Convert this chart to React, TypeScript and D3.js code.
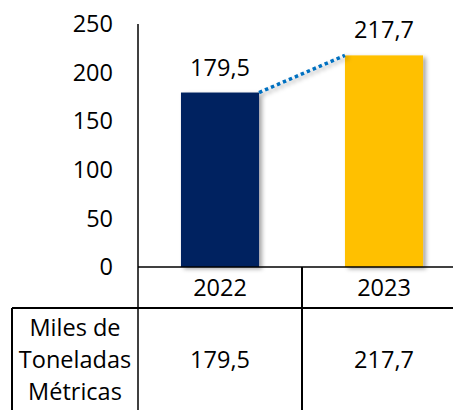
import React from 'react';
import * as d3 from 'd3';

const categories = ['2022', '2023'];
const values = [179.5, 217.7];
const yTicks = [0, 50, 100, 150, 200, 250];
const barColors = ['#002060', '#FFC000'];
const rowLabel = ['Miles de', 'Toneladas', 'Métricas'];

const locale = d3.formatLocale({ decimal: ',', thousands: '.', grouping: [3], currency: ['', ''] });
const fmt = locale.format('.1f');

const App = () => {
  const width = 453;
  const height = 410;
  const left = 138;
  const right = 466;
  const top = 24;
  const zeroY = 267;
  const headerBottom = 308;
  const font = "'Open Sans', sans-serif";
  const fs = 23.5;

  const x = d3.scaleBand().domain(categories).range([left, right]).padding(0);
  const xBar = d3.scaleBand().domain(categories).range([left, right])
    .paddingInner(0.524).paddingOuter(0.262);
  const y = d3.scaleLinear().domain([0, 250]).range([zeroY, top]);

  // dotted connector from top-right of first bar to top-left of second
  const connector = d3.line()([
    [xBar(categories[0]) + xBar.bandwidth(), y(values[0])],
    [xBar(categories[1]), y(values[1])],
  ]);

  return (
    <svg width={width} height={height} style={{ position: 'absolute', left: 0, top: 0 }}
      fontFamily={font} fontSize={fs}>
      <defs>
        <filter id="shadow" x="-20%" y="-20%" width="150%" height="150%">
          <feDropShadow dx="3" dy="2" stdDeviation="2" floodColor="#000" floodOpacity="0.35" />
        </filter>
      </defs>
      <rect width={width} height={height} fill="#fff" />

      {yTicks.map(t => (
        <text key={t} x={113} y={y(t)} dy="0.35em" textAnchor="end" fill="#000">{t}</text>
      ))}

      {categories.map((c, i) => (
        <rect key={c} x={xBar(c)} y={y(values[i])} width={xBar.bandwidth()}
          height={zeroY - y(values[i])} fill={barColors[i]} filter="url(#shadow)" />
      ))}

      <path d={connector} stroke="#0070C0" strokeWidth={3.5} strokeDasharray="3.5 3"
        fill="none" filter="url(#shadow)" />

      {categories.map((c, i) => (
        <text key={c} x={x(c) + x.bandwidth() / 2} y={y(values[i]) - 17}
          textAnchor="middle" fill="#000">{fmt(values[i])}</text>
      ))}

      {/* axes */}
      <line x1={left} x2={left} y1={top} y2={height} stroke="#000" strokeWidth={1.5} />
      <line x1={left} x2={right} y1={zeroY} y2={zeroY} stroke="#000" strokeWidth={1.5} />

      {/* data table */}
      <line x1={12} x2={right} y1={headerBottom} y2={headerBottom} stroke="#000" strokeWidth={2} />
      <line x1={12} x2={12} y1={headerBottom} y2={height} stroke="#000" strokeWidth={2} />
      {categories.slice(1).map(c => (
        <line key={c} x1={x(c)} x2={x(c)} y1={zeroY} y2={height} stroke="#000" strokeWidth={2} />
      ))}
      {categories.map(c => (
        <text key={c} x={x(c) + x.bandwidth() / 2} y={296} textAnchor="middle" fill="#000">{c}</text>
      ))}
      {rowLabel.map((l, i) => (
        <text key={l} x={75} y={336 + i * 32} textAnchor="middle" fill="#000">{l}</text>
      ))}
      {categories.map((c, i) => (
        <text key={c} x={x(c) + x.bandwidth() / 2} y={368} textAnchor="middle" fill="#000">{fmt(values[i])}</text>
      ))}
    </svg>
  );
};

export default App;
